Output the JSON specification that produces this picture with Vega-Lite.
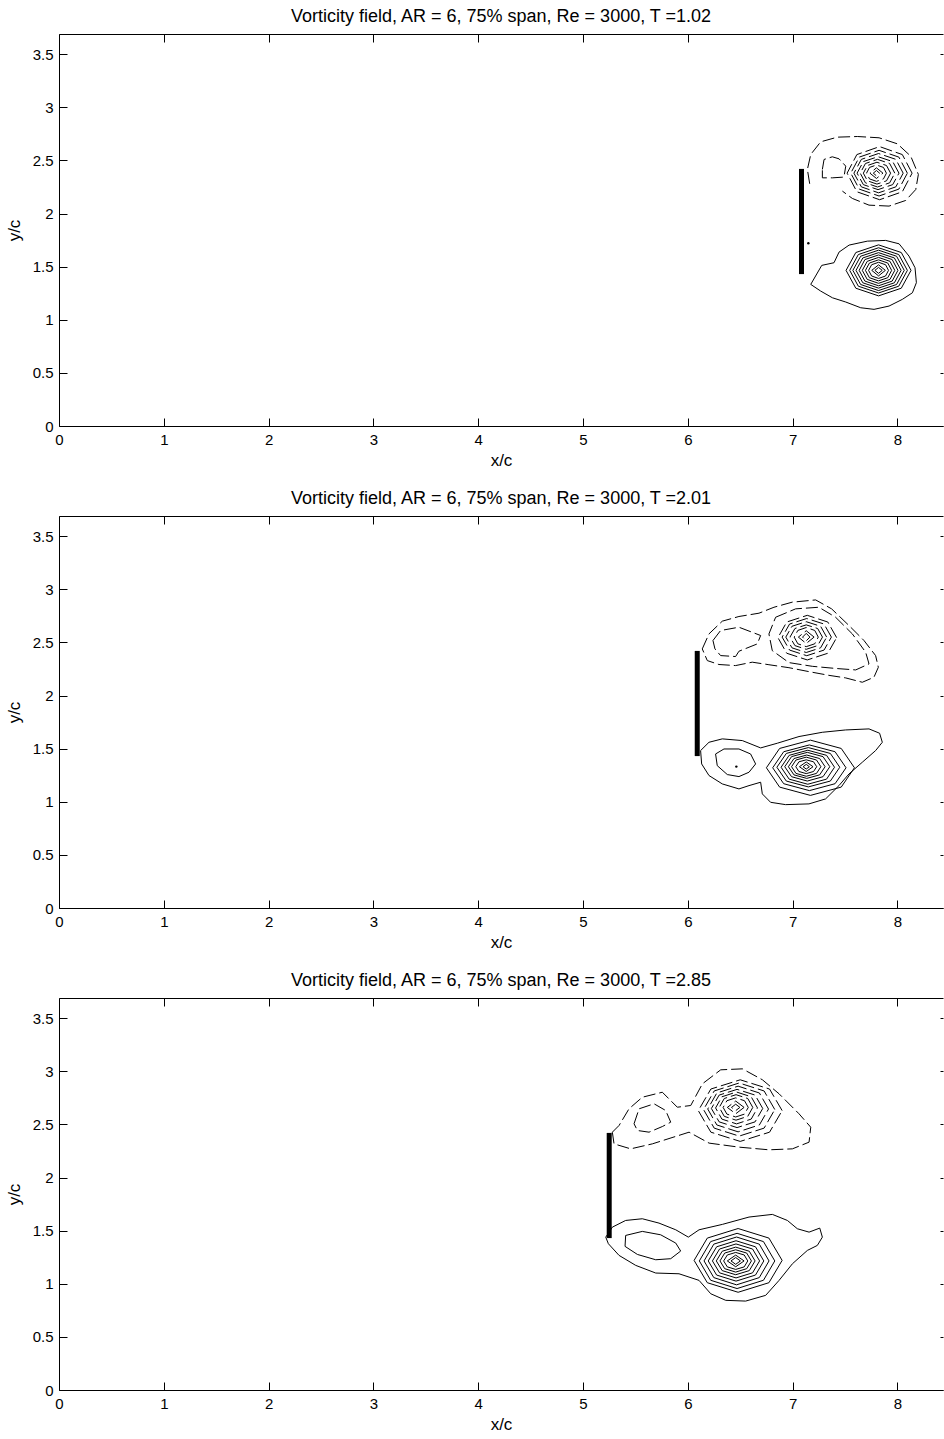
{
  "$schema": "https://vega.github.io/schema/vega-lite/v6.json",
  "background": "white",
  "padding": {"left": 5, "top": 7, "right": 0, "bottom": 0},
  "bounds": "flush",
  "spacing": 90,
  "config": {
    "view": {"stroke": null},
    "font": "Liberation Sans",
    "axis": {"grid": false, "domainColor": "#000", "domainWidth": 1, "tickColor": "#000", "tickWidth": 1, "tickSize": -8, "labelColor": "#000", "labelFontSize": 15, "labelPadding": 14, "titleColor": "#000", "titleFontSize": 17, "titleFontWeight": "normal", "labelFlush": false, "labelOverlap": false},
    "axisX": {"titlePadding": 5},
    "axisY": {"titlePadding": 9},
    "title": {"fontSize": 18, "fontWeight": "normal", "color": "#000", "frame": "group", "offset": 8}
  },
  "datasets": {
    "plates": [{"p": 1, "x": 7.085, "y0": 1.43, "y1": 2.42}, {"p": 2, "x": 6.09, "y0": 1.43, "y1": 2.42}, {"p": 3, "x": 5.25, "y0": 1.43, "y1": 2.42}],
    "dots": [{"p": 1, "x": 7.15, "y": 1.72}, {"p": 2, "x": 6.463, "y": 1.331}],
    "s1": [
      {"c":0,"x":7.173,"y":1.333},{"c":0,"x":7.278,"y":1.512},{"c":0,"x":7.395,"y":1.537},{"c":0,"x":7.443,"y":1.637},{"c":0,"x":7.539,"y":1.703},{"c":0,"x":7.713,"y":1.74},{"c":0,"x":7.888,"y":1.747},{"c":0,"x":8.016,"y":1.715},{"c":0,"x":8.111,"y":1.599},{"c":0,"x":8.168,"y":1.49},{"c":0,"x":8.181,"y":1.349},{"c":0,"x":8.143,"y":1.254},{"c":0,"x":8.047,"y":1.192},{"c":0,"x":7.92,"y":1.129},{"c":0,"x":7.777,"y":1.098},{"c":0,"x":7.65,"y":1.113},{"c":0,"x":7.507,"y":1.167},{"c":0,"x":7.38,"y":1.207},{"c":0,"x":7.268,"y":1.27},{"c":0,"x":7.173,"y":1.333},
      {"c":1,"x":8.13,"y":1.465},{"c":1,"x":8.037,"y":1.633},{"c":1,"x":7.82,"y":1.705},{"c":1,"x":7.603,"y":1.633},{"c":1,"x":7.51,"y":1.465},{"c":1,"x":7.603,"y":1.297},{"c":1,"x":7.82,"y":1.225},{"c":1,"x":8.037,"y":1.297},{"c":1,"x":8.13,"y":1.465},
      {"c":2,"x":8.095,"y":1.465},{"c":2,"x":8.013,"y":1.614},{"c":2,"x":7.82,"y":1.678},{"c":2,"x":7.627,"y":1.614},{"c":2,"x":7.545,"y":1.465},{"c":2,"x":7.627,"y":1.316},{"c":2,"x":7.82,"y":1.252},{"c":2,"x":8.013,"y":1.316},{"c":2,"x":8.095,"y":1.465},
      {"c":3,"x":8.065,"y":1.465},{"c":3,"x":7.992,"y":1.598},{"c":3,"x":7.82,"y":1.655},{"c":3,"x":7.649,"y":1.598},{"c":3,"x":7.575,"y":1.465},{"c":3,"x":7.649,"y":1.332},{"c":3,"x":7.82,"y":1.275},{"c":3,"x":7.992,"y":1.332},{"c":3,"x":8.065,"y":1.465},
      {"c":4,"x":8.035,"y":1.465},{"c":4,"x":7.971,"y":1.582},{"c":4,"x":7.82,"y":1.632},{"c":4,"x":7.67,"y":1.582},{"c":4,"x":7.605,"y":1.465},{"c":4,"x":7.67,"y":1.348},{"c":4,"x":7.82,"y":1.298},{"c":4,"x":7.971,"y":1.348},{"c":4,"x":8.035,"y":1.465},
      {"c":5,"x":8.005,"y":1.465},{"c":5,"x":7.95,"y":1.567},{"c":5,"x":7.82,"y":1.61},{"c":5,"x":7.69,"y":1.567},{"c":5,"x":7.635,"y":1.465},{"c":5,"x":7.69,"y":1.364},{"c":5,"x":7.82,"y":1.32},{"c":5,"x":7.95,"y":1.364},{"c":5,"x":8.005,"y":1.465},
      {"c":6,"x":7.975,"y":1.465},{"c":6,"x":7.929,"y":1.55},{"c":6,"x":7.82,"y":1.587},{"c":6,"x":7.712,"y":1.55},{"c":6,"x":7.665,"y":1.465},{"c":6,"x":7.712,"y":1.38},{"c":6,"x":7.82,"y":1.343},{"c":6,"x":7.929,"y":1.38},{"c":6,"x":7.975,"y":1.465},
      {"c":7,"x":7.945,"y":1.465},{"c":7,"x":7.908,"y":1.534},{"c":7,"x":7.82,"y":1.564},{"c":7,"x":7.733,"y":1.534},{"c":7,"x":7.695,"y":1.465},{"c":7,"x":7.733,"y":1.396},{"c":7,"x":7.82,"y":1.366},{"c":7,"x":7.908,"y":1.396},{"c":7,"x":7.945,"y":1.465},
      {"c":8,"x":7.915,"y":1.465},{"c":8,"x":7.887,"y":1.518},{"c":8,"x":7.82,"y":1.541},{"c":8,"x":7.754,"y":1.518},{"c":8,"x":7.725,"y":1.465},{"c":8,"x":7.754,"y":1.412},{"c":8,"x":7.82,"y":1.389},{"c":8,"x":7.887,"y":1.412},{"c":8,"x":7.915,"y":1.465},
      {"c":9,"x":7.885,"y":1.465},{"c":9,"x":7.82,"y":1.517},{"c":9,"x":7.755,"y":1.465},{"c":9,"x":7.82,"y":1.413},{"c":9,"x":7.885,"y":1.465},
      {"c":10,"x":7.855,"y":1.465},{"c":10,"x":7.82,"y":1.493},{"c":10,"x":7.785,"y":1.465},{"c":10,"x":7.82,"y":1.437},{"c":10,"x":7.855,"y":1.465}
    ],
    "n1": [
      {"c":0,"x":7.163,"y":2.28},{"c":0,"x":7.141,"y":2.415},{"c":0,"x":7.173,"y":2.556},{"c":0,"x":7.268,"y":2.675},{"c":0,"x":7.427,"y":2.719},{"c":0,"x":7.618,"y":2.725},{"c":0,"x":7.825,"y":2.713},{"c":0,"x":8.0,"y":2.656},{"c":0,"x":8.127,"y":2.54},{"c":0,"x":8.2,"y":2.368},{"c":0,"x":8.175,"y":2.226},{"c":0,"x":8.079,"y":2.123},{"c":0,"x":7.92,"y":2.07},{"c":0,"x":7.729,"y":2.079},{"c":0,"x":7.57,"y":2.142},{"c":0,"x":7.475,"y":2.211},
      {"c":1,"x":8.14,"y":2.38},{"c":1,"x":8.047,"y":2.555},{"c":1,"x":7.83,"y":2.63},{"c":1,"x":7.613,"y":2.555},{"c":1,"x":7.52,"y":2.38},{"c":1,"x":7.613,"y":2.205},{"c":1,"x":7.83,"y":2.13},{"c":1,"x":8.047,"y":2.205},{"c":1,"x":8.14,"y":2.38},
      {"c":2,"x":8.095,"y":2.38},{"c":2,"x":8.014,"y":2.531},{"c":2,"x":7.825,"y":2.595},{"c":2,"x":7.636,"y":2.531},{"c":2,"x":7.555,"y":2.38},{"c":2,"x":7.636,"y":2.23},{"c":2,"x":7.825,"y":2.165},{"c":2,"x":8.014,"y":2.23},{"c":2,"x":8.095,"y":2.38},
      {"c":3,"x":8.055,"y":2.38},{"c":3,"x":7.985,"y":2.51},{"c":3,"x":7.82,"y":2.565},{"c":3,"x":7.656,"y":2.51},{"c":3,"x":7.585,"y":2.38},{"c":3,"x":7.656,"y":2.251},{"c":3,"x":7.82,"y":2.195},{"c":3,"x":7.985,"y":2.251},{"c":3,"x":8.055,"y":2.38},
      {"c":4,"x":8.015,"y":2.38},{"c":4,"x":7.955,"y":2.489},{"c":4,"x":7.815,"y":2.535},{"c":4,"x":7.675,"y":2.489},{"c":4,"x":7.615,"y":2.38},{"c":4,"x":7.675,"y":2.272},{"c":4,"x":7.815,"y":2.225},{"c":4,"x":7.955,"y":2.272},{"c":4,"x":8.015,"y":2.38},
      {"c":5,"x":7.975,"y":2.38},{"c":5,"x":7.926,"y":2.471},{"c":5,"x":7.81,"y":2.51},{"c":5,"x":7.695,"y":2.471},{"c":5,"x":7.645,"y":2.38},{"c":5,"x":7.695,"y":2.289},{"c":5,"x":7.81,"y":2.25},{"c":5,"x":7.926,"y":2.289},{"c":5,"x":7.975,"y":2.38},
      {"c":6,"x":7.935,"y":2.38},{"c":6,"x":7.896,"y":2.452},{"c":6,"x":7.805,"y":2.483},{"c":6,"x":7.714,"y":2.452},{"c":6,"x":7.675,"y":2.38},{"c":6,"x":7.714,"y":2.308},{"c":6,"x":7.805,"y":2.277},{"c":6,"x":7.896,"y":2.308},{"c":6,"x":7.935,"y":2.38},
      {"c":7,"x":7.895,"y":2.38},{"c":7,"x":7.867,"y":2.434},{"c":7,"x":7.8,"y":2.457},{"c":7,"x":7.734,"y":2.434},{"c":7,"x":7.705,"y":2.38},{"c":7,"x":7.734,"y":2.326},{"c":7,"x":7.8,"y":2.303},{"c":7,"x":7.867,"y":2.326},{"c":7,"x":7.895,"y":2.38},
      {"c":8,"x":7.862,"y":2.38},{"c":8,"x":7.8,"y":2.43},{"c":8,"x":7.738,"y":2.38},{"c":8,"x":7.8,"y":2.33},{"c":8,"x":7.862,"y":2.38},
      {"c":9,"x":7.83,"y":2.38},{"c":9,"x":7.8,"y":2.405},{"c":9,"x":7.77,"y":2.38},{"c":9,"x":7.8,"y":2.355},{"c":9,"x":7.83,"y":2.38},
      {"c":10,"x":7.284,"y":2.415},{"c":10,"x":7.3,"y":2.509},{"c":10,"x":7.379,"y":2.534},{"c":10,"x":7.443,"y":2.515},{"c":10,"x":7.507,"y":2.446},{"c":10,"x":7.49,"y":2.343},{"c":10,"x":7.379,"y":2.336},{"c":10,"x":7.284,"y":2.336},{"c":10,"x":7.284,"y":2.415}
    ],
    "s2": [
      {"c":0,"x":6.122,"y":1.482},{"c":0,"x":6.202,"y":1.56},{"c":0,"x":6.329,"y":1.592},{"c":0,"x":6.52,"y":1.576},{"c":0,"x":6.695,"y":1.507},{"c":0,"x":6.854,"y":1.551},{"c":0,"x":7.061,"y":1.614},{"c":0,"x":7.283,"y":1.654},{"c":0,"x":7.506,"y":1.676},{"c":0,"x":7.729,"y":1.686},{"c":0,"x":7.83,"y":1.645},{"c":0,"x":7.856,"y":1.56},{"c":0,"x":7.792,"y":1.482},{"c":0,"x":7.665,"y":1.372},{"c":0,"x":7.538,"y":1.262},{"c":0,"x":7.442,"y":1.152},{"c":0,"x":7.315,"y":1.027},{"c":0,"x":7.156,"y":0.98},{"c":0,"x":6.933,"y":0.973},{"c":0,"x":6.79,"y":0.995},{"c":0,"x":6.711,"y":1.074},{"c":0,"x":6.695,"y":1.184},{"c":0,"x":6.584,"y":1.152},{"c":0,"x":6.488,"y":1.121},{"c":0,"x":6.329,"y":1.168},{"c":0,"x":6.202,"y":1.247},{"c":0,"x":6.132,"y":1.356},{"c":0,"x":6.122,"y":1.482},
      {"c":1,"x":7.59,"y":1.32},{"c":1,"x":7.464,"y":1.502},{"c":1,"x":7.17,"y":1.58},{"c":1,"x":6.876,"y":1.502},{"c":1,"x":6.75,"y":1.32},{"c":1,"x":6.876,"y":1.138},{"c":1,"x":7.17,"y":1.06},{"c":1,"x":7.464,"y":1.138},{"c":1,"x":7.59,"y":1.32},
      {"c":2,"x":7.51,"y":1.32},{"c":2,"x":7.405,"y":1.471},{"c":2,"x":7.16,"y":1.535},{"c":2,"x":6.915,"y":1.471},{"c":2,"x":6.81,"y":1.32},{"c":2,"x":6.915,"y":1.17},{"c":2,"x":7.16,"y":1.105},{"c":2,"x":7.405,"y":1.17},{"c":2,"x":7.51,"y":1.32},
      {"c":3,"x":7.45,"y":1.325},{"c":3,"x":7.36,"y":1.455},{"c":3,"x":7.15,"y":1.51},{"c":3,"x":6.94,"y":1.455},{"c":3,"x":6.85,"y":1.325},{"c":3,"x":6.94,"y":1.195},{"c":3,"x":7.15,"y":1.14},{"c":3,"x":7.36,"y":1.195},{"c":3,"x":7.45,"y":1.325},
      {"c":4,"x":7.4,"y":1.325},{"c":4,"x":7.324,"y":1.437},{"c":4,"x":7.145,"y":1.485},{"c":4,"x":6.967,"y":1.437},{"c":4,"x":6.89,"y":1.325},{"c":4,"x":6.967,"y":1.213},{"c":4,"x":7.145,"y":1.165},{"c":4,"x":7.324,"y":1.213},{"c":4,"x":7.4,"y":1.325},
      {"c":5,"x":7.355,"y":1.33},{"c":5,"x":7.29,"y":1.425},{"c":5,"x":7.14,"y":1.465},{"c":5,"x":6.99,"y":1.425},{"c":5,"x":6.925,"y":1.33},{"c":5,"x":6.99,"y":1.236},{"c":5,"x":7.14,"y":1.195},{"c":5,"x":7.29,"y":1.236},{"c":5,"x":7.355,"y":1.33},
      {"c":6,"x":7.31,"y":1.33},{"c":6,"x":7.258,"y":1.407},{"c":6,"x":7.135,"y":1.44},{"c":6,"x":7.013,"y":1.407},{"c":6,"x":6.96,"y":1.33},{"c":6,"x":7.013,"y":1.253},{"c":6,"x":7.135,"y":1.22},{"c":6,"x":7.258,"y":1.253},{"c":6,"x":7.31,"y":1.33},
      {"c":7,"x":7.27,"y":1.33},{"c":7,"x":7.228,"y":1.393},{"c":7,"x":7.13,"y":1.42},{"c":7,"x":7.032,"y":1.393},{"c":7,"x":6.99,"y":1.33},{"c":7,"x":7.032,"y":1.267},{"c":7,"x":7.13,"y":1.24},{"c":7,"x":7.228,"y":1.267},{"c":7,"x":7.27,"y":1.33},
      {"c":8,"x":7.23,"y":1.33},{"c":8,"x":7.2,"y":1.376},{"c":8,"x":7.13,"y":1.395},{"c":8,"x":7.06,"y":1.376},{"c":8,"x":7.03,"y":1.33},{"c":8,"x":7.06,"y":1.285},{"c":8,"x":7.13,"y":1.265},{"c":8,"x":7.2,"y":1.285},{"c":8,"x":7.23,"y":1.33},
      {"c":9,"x":7.195,"y":1.33},{"c":9,"x":7.13,"y":1.375},{"c":9,"x":7.065,"y":1.33},{"c":9,"x":7.13,"y":1.285},{"c":9,"x":7.195,"y":1.33},
      {"c":10,"x":7.16,"y":1.33},{"c":10,"x":7.13,"y":1.352},{"c":10,"x":7.1,"y":1.33},{"c":10,"x":7.13,"y":1.308},{"c":10,"x":7.16,"y":1.33},
      {"c":11,"x":6.265,"y":1.45},{"c":11,"x":6.345,"y":1.497},{"c":11,"x":6.488,"y":1.497},{"c":11,"x":6.599,"y":1.45},{"c":11,"x":6.647,"y":1.356},{"c":11,"x":6.584,"y":1.278},{"c":11,"x":6.488,"y":1.237},{"c":11,"x":6.377,"y":1.256},{"c":11,"x":6.281,"y":1.34},{"c":11,"x":6.265,"y":1.45}
    ],
    "n2": [
      {"c":0,"x":6.138,"y":2.439},{"c":0,"x":6.202,"y":2.58},{"c":0,"x":6.329,"y":2.7},{"c":0,"x":6.488,"y":2.744},{"c":0,"x":6.679,"y":2.775},{"c":0,"x":6.822,"y":2.831},{"c":0,"x":6.997,"y":2.879},{"c":0,"x":7.22,"y":2.9},{"c":0,"x":7.372,"y":2.816},{"c":0,"x":7.538,"y":2.659},{"c":0,"x":7.681,"y":2.518},{"c":0,"x":7.792,"y":2.376},{"c":0,"x":7.818,"y":2.266},{"c":0,"x":7.776,"y":2.172},{"c":0,"x":7.665,"y":2.125},{"c":0,"x":7.506,"y":2.166},{"c":0,"x":7.347,"y":2.19},{"c":0,"x":7.156,"y":2.225},{"c":0,"x":6.965,"y":2.262},{"c":0,"x":6.774,"y":2.29},{"c":0,"x":6.615,"y":2.314},{"c":0,"x":6.456,"y":2.282},{"c":0,"x":6.297,"y":2.292},{"c":0,"x":6.186,"y":2.329},{"c":0,"x":6.138,"y":2.439},
      {"c":1,"x":6.838,"y":2.737},{"c":1,"x":7.029,"y":2.816},{"c":1,"x":7.251,"y":2.831},{"c":1,"x":7.41,"y":2.737},{"c":1,"x":7.57,"y":2.58},{"c":1,"x":7.697,"y":2.408},{"c":1,"x":7.729,"y":2.298},{"c":1,"x":7.602,"y":2.241},{"c":1,"x":7.41,"y":2.255},{"c":1,"x":7.188,"y":2.275},{"c":1,"x":6.965,"y":2.31},{"c":1,"x":6.806,"y":2.423},{"c":1,"x":6.774,"y":2.58},{"c":1,"x":6.838,"y":2.737},
      {"c":2,"x":7.42,"y":2.545},{"c":2,"x":7.336,"y":2.692},{"c":2,"x":7.14,"y":2.755},{"c":2,"x":6.944,"y":2.692},{"c":2,"x":6.86,"y":2.545},{"c":2,"x":6.944,"y":2.398},{"c":2,"x":7.14,"y":2.335},{"c":2,"x":7.336,"y":2.398},{"c":2,"x":7.42,"y":2.545},
      {"c":3,"x":7.37,"y":2.55},{"c":3,"x":7.3,"y":2.673},{"c":3,"x":7.135,"y":2.725},{"c":3,"x":6.971,"y":2.673},{"c":3,"x":6.9,"y":2.55},{"c":3,"x":6.971,"y":2.428},{"c":3,"x":7.135,"y":2.375},{"c":3,"x":7.3,"y":2.428},{"c":3,"x":7.37,"y":2.55},
      {"c":4,"x":7.325,"y":2.55},{"c":4,"x":7.267,"y":2.652},{"c":4,"x":7.13,"y":2.695},{"c":4,"x":6.994,"y":2.652},{"c":4,"x":6.935,"y":2.55},{"c":4,"x":6.994,"y":2.449},{"c":4,"x":7.13,"y":2.405},{"c":4,"x":7.267,"y":2.449},{"c":4,"x":7.325,"y":2.55},
      {"c":5,"x":7.285,"y":2.55},{"c":5,"x":7.239,"y":2.631},{"c":5,"x":7.13,"y":2.665},{"c":5,"x":7.022,"y":2.631},{"c":5,"x":6.975,"y":2.55},{"c":5,"x":7.022,"y":2.47},{"c":5,"x":7.13,"y":2.435},{"c":5,"x":7.239,"y":2.47},{"c":5,"x":7.285,"y":2.55},
      {"c":6,"x":7.245,"y":2.55},{"c":6,"x":7.211,"y":2.613},{"c":6,"x":7.13,"y":2.64},{"c":6,"x":7.05,"y":2.613},{"c":6,"x":7.015,"y":2.55},{"c":6,"x":7.05,"y":2.487},{"c":6,"x":7.13,"y":2.46},{"c":6,"x":7.211,"y":2.487},{"c":6,"x":7.245,"y":2.55},
      {"c":7,"x":7.205,"y":2.55},{"c":7,"x":7.13,"y":2.61},{"c":7,"x":7.055,"y":2.55},{"c":7,"x":7.13,"y":2.49},{"c":7,"x":7.205,"y":2.55},
      {"c":8,"x":7.165,"y":2.55},{"c":8,"x":7.13,"y":2.585},{"c":8,"x":7.095,"y":2.55},{"c":8,"x":7.13,"y":2.515},{"c":8,"x":7.165,"y":2.55},
      {"c":9,"x":6.24,"y":2.518},{"c":9,"x":6.313,"y":2.612},{"c":9,"x":6.488,"y":2.643},{"c":9,"x":6.695,"y":2.565},{"c":9,"x":6.663,"y":2.486},{"c":9,"x":6.488,"y":2.417},{"c":9,"x":6.456,"y":2.367},{"c":9,"x":6.313,"y":2.376},{"c":9,"x":6.259,"y":2.439},{"c":9,"x":6.24,"y":2.518}
    ],
    "s3": [
      {"c":0,"x":5.217,"y":1.439},{"c":0,"x":5.28,"y":1.533},{"c":0,"x":5.407,"y":1.596},{"c":0,"x":5.566,"y":1.612},{"c":0,"x":5.725,"y":1.571},{"c":0,"x":5.885,"y":1.508},{"c":0,"x":6.005,"y":1.439},{"c":0,"x":6.107,"y":1.508},{"c":0,"x":6.33,"y":1.559},{"c":0,"x":6.584,"y":1.628},{"c":0,"x":6.807,"y":1.653},{"c":0,"x":6.95,"y":1.596},{"c":0,"x":7.045,"y":1.518},{"c":0,"x":7.157,"y":1.486},{"c":0,"x":7.259,"y":1.524},{"c":0,"x":7.284,"y":1.439},{"c":0,"x":7.236,"y":1.361},{"c":0,"x":7.141,"y":1.314},{"c":0,"x":6.998,"y":1.188},{"c":0,"x":6.871,"y":1.032},{"c":0,"x":6.743,"y":0.891},{"c":0,"x":6.552,"y":0.837},{"c":0,"x":6.362,"y":0.844},{"c":0,"x":6.219,"y":0.906},{"c":0,"x":6.107,"y":1.032},{"c":0,"x":5.916,"y":1.094},{"c":0,"x":5.694,"y":1.101},{"c":0,"x":5.503,"y":1.173},{"c":0,"x":5.344,"y":1.267},{"c":0,"x":5.242,"y":1.377},{"c":0,"x":5.217,"y":1.439},
      {"c":1,"x":6.9,"y":1.22},{"c":1,"x":6.774,"y":1.43},{"c":1,"x":6.48,"y":1.52},{"c":1,"x":6.186,"y":1.43},{"c":1,"x":6.06,"y":1.22},{"c":1,"x":6.186,"y":1.01},{"c":1,"x":6.48,"y":0.92},{"c":1,"x":6.774,"y":1.01},{"c":1,"x":6.9,"y":1.22},
      {"c":2,"x":6.83,"y":1.215},{"c":2,"x":6.722,"y":1.397},{"c":2,"x":6.47,"y":1.475},{"c":2,"x":6.218,"y":1.397},{"c":2,"x":6.11,"y":1.215},{"c":2,"x":6.218,"y":1.033},{"c":2,"x":6.47,"y":0.955},{"c":2,"x":6.722,"y":1.033},{"c":2,"x":6.83,"y":1.215},
      {"c":3,"x":6.775,"y":1.215},{"c":3,"x":6.682,"y":1.373},{"c":3,"x":6.465,"y":1.44},{"c":3,"x":6.248,"y":1.373},{"c":3,"x":6.155,"y":1.215},{"c":3,"x":6.248,"y":1.058},{"c":3,"x":6.465,"y":0.99},{"c":3,"x":6.682,"y":1.058},{"c":3,"x":6.775,"y":1.215},
      {"c":4,"x":6.725,"y":1.215},{"c":4,"x":6.646,"y":1.348},{"c":4,"x":6.46,"y":1.405},{"c":4,"x":6.275,"y":1.348},{"c":4,"x":6.195,"y":1.215},{"c":4,"x":6.275,"y":1.082},{"c":4,"x":6.46,"y":1.025},{"c":4,"x":6.646,"y":1.082},{"c":4,"x":6.725,"y":1.215},
      {"c":5,"x":6.685,"y":1.215},{"c":5,"x":6.618,"y":1.327},{"c":5,"x":6.46,"y":1.375},{"c":5,"x":6.303,"y":1.327},{"c":5,"x":6.235,"y":1.215},{"c":5,"x":6.303,"y":1.103},{"c":5,"x":6.46,"y":1.055},{"c":5,"x":6.618,"y":1.103},{"c":5,"x":6.685,"y":1.215},
      {"c":6,"x":6.642,"y":1.215},{"c":6,"x":6.587,"y":1.306},{"c":6,"x":6.457,"y":1.345},{"c":6,"x":6.328,"y":1.306},{"c":6,"x":6.272,"y":1.215},{"c":6,"x":6.328,"y":1.124},{"c":6,"x":6.457,"y":1.085},{"c":6,"x":6.587,"y":1.124},{"c":6,"x":6.642,"y":1.215},
      {"c":7,"x":6.607,"y":1.215},{"c":7,"x":6.562,"y":1.289},{"c":7,"x":6.457,"y":1.32},{"c":7,"x":6.352,"y":1.289},{"c":7,"x":6.307,"y":1.215},{"c":7,"x":6.352,"y":1.142},{"c":7,"x":6.457,"y":1.11},{"c":7,"x":6.562,"y":1.142},{"c":7,"x":6.607,"y":1.215},
      {"c":8,"x":6.572,"y":1.215},{"c":8,"x":6.538,"y":1.271},{"c":8,"x":6.457,"y":1.295},{"c":8,"x":6.377,"y":1.271},{"c":8,"x":6.342,"y":1.215},{"c":8,"x":6.377,"y":1.159},{"c":8,"x":6.457,"y":1.135},{"c":8,"x":6.538,"y":1.159},{"c":8,"x":6.572,"y":1.215},
      {"c":9,"x":6.537,"y":1.215},{"c":9,"x":6.457,"y":1.27},{"c":9,"x":6.377,"y":1.215},{"c":9,"x":6.457,"y":1.16},{"c":9,"x":6.537,"y":1.215},
      {"c":10,"x":6.502,"y":1.215},{"c":10,"x":6.457,"y":1.247},{"c":10,"x":6.412,"y":1.215},{"c":10,"x":6.457,"y":1.183},{"c":10,"x":6.502,"y":1.215},
      {"c":11,"x":5.407,"y":1.455},{"c":11,"x":5.566,"y":1.493},{"c":11,"x":5.741,"y":1.461},{"c":11,"x":5.885,"y":1.383},{"c":11,"x":5.932,"y":1.308},{"c":11,"x":5.837,"y":1.236},{"c":11,"x":5.694,"y":1.226},{"c":11,"x":5.519,"y":1.276},{"c":11,"x":5.401,"y":1.352},{"c":11,"x":5.407,"y":1.455}
    ],
    "n3": [
      {"c":0,"x":5.28,"y":2.427},{"c":0,"x":5.344,"y":2.49},{"c":0,"x":5.439,"y":2.647},{"c":0,"x":5.566,"y":2.756},{"c":0,"x":5.757,"y":2.803},{"c":0,"x":5.9,"y":2.662},{"c":0,"x":6.028,"y":2.678},{"c":0,"x":6.139,"y":2.882},{"c":0,"x":6.314,"y":3.014},{"c":0,"x":6.521,"y":3.023},{"c":0,"x":6.712,"y":2.92},{"c":0,"x":6.871,"y":2.788},{"c":0,"x":7.061,"y":2.6},{"c":0,"x":7.173,"y":2.474},{"c":0,"x":7.157,"y":2.333},{"c":0,"x":6.998,"y":2.27},{"c":0,"x":6.775,"y":2.261},{"c":0,"x":6.489,"y":2.286},{"c":0,"x":6.203,"y":2.324},{"c":0,"x":6.012,"y":2.427},{"c":0,"x":5.662,"y":2.317},{"c":0,"x":5.455,"y":2.27},{"c":0,"x":5.296,"y":2.317},{"c":0,"x":5.28,"y":2.427},
      {"c":1,"x":6.9,"y":2.63},{"c":1,"x":6.78,"y":2.833},{"c":1,"x":6.5,"y":2.92},{"c":1,"x":6.22,"y":2.833},{"c":1,"x":6.1,"y":2.63},{"c":1,"x":6.22,"y":2.427},{"c":1,"x":6.5,"y":2.34},{"c":1,"x":6.78,"y":2.427},{"c":1,"x":6.9,"y":2.63},
      {"c":2,"x":6.83,"y":2.64},{"c":2,"x":6.728,"y":2.815},{"c":2,"x":6.49,"y":2.89},{"c":2,"x":6.252,"y":2.815},{"c":2,"x":6.15,"y":2.64},{"c":2,"x":6.252,"y":2.465},{"c":2,"x":6.49,"y":2.39},{"c":2,"x":6.728,"y":2.465},{"c":2,"x":6.83,"y":2.64},
      {"c":3,"x":6.77,"y":2.645},{"c":3,"x":6.683,"y":2.796},{"c":3,"x":6.48,"y":2.86},{"c":3,"x":6.277,"y":2.796},{"c":3,"x":6.19,"y":2.645},{"c":3,"x":6.277,"y":2.495},{"c":3,"x":6.48,"y":2.43},{"c":3,"x":6.683,"y":2.495},{"c":3,"x":6.77,"y":2.645},
      {"c":4,"x":6.715,"y":2.65},{"c":4,"x":6.642,"y":2.776},{"c":4,"x":6.47,"y":2.83},{"c":4,"x":6.299,"y":2.776},{"c":4,"x":6.225,"y":2.65},{"c":4,"x":6.299,"y":2.524},{"c":4,"x":6.47,"y":2.47},{"c":4,"x":6.642,"y":2.524},{"c":4,"x":6.715,"y":2.65},
      {"c":5,"x":6.665,"y":2.655},{"c":5,"x":6.605,"y":2.76},{"c":5,"x":6.465,"y":2.805},{"c":5,"x":6.325,"y":2.76},{"c":5,"x":6.265,"y":2.655},{"c":5,"x":6.325,"y":2.55},{"c":5,"x":6.465,"y":2.505},{"c":5,"x":6.605,"y":2.55},{"c":5,"x":6.665,"y":2.655},
      {"c":6,"x":6.62,"y":2.66},{"c":6,"x":6.572,"y":2.744},{"c":6,"x":6.46,"y":2.78},{"c":6,"x":6.348,"y":2.744},{"c":6,"x":6.3,"y":2.66},{"c":6,"x":6.348,"y":2.576},{"c":6,"x":6.46,"y":2.54},{"c":6,"x":6.572,"y":2.576},{"c":6,"x":6.62,"y":2.66},
      {"c":7,"x":6.577,"y":2.66},{"c":7,"x":6.541,"y":2.723},{"c":7,"x":6.457,"y":2.75},{"c":7,"x":6.373,"y":2.723},{"c":7,"x":6.337,"y":2.66},{"c":7,"x":6.373,"y":2.597},{"c":7,"x":6.457,"y":2.57},{"c":7,"x":6.541,"y":2.597},{"c":7,"x":6.577,"y":2.66},
      {"c":8,"x":6.537,"y":2.66},{"c":8,"x":6.457,"y":2.72},{"c":8,"x":6.377,"y":2.66},{"c":8,"x":6.457,"y":2.6},{"c":8,"x":6.537,"y":2.66},
      {"c":9,"x":6.497,"y":2.66},{"c":9,"x":6.457,"y":2.69},{"c":9,"x":6.417,"y":2.66},{"c":9,"x":6.457,"y":2.63},{"c":9,"x":6.497,"y":2.66},
      {"c":10,"x":5.487,"y":2.506},{"c":10,"x":5.535,"y":2.647},{"c":10,"x":5.678,"y":2.694},{"c":10,"x":5.789,"y":2.631},{"c":10,"x":5.837,"y":2.521},{"c":10,"x":5.757,"y":2.48},{"c":10,"x":5.63,"y":2.427},{"c":10,"x":5.519,"y":2.443},{"c":10,"x":5.487,"y":2.506}
    ]
  },
  "vconcat": [
    {
      "width": 884, "height": 392,
      "title": {"text": "Vorticity field, AR = 6, 75% span, Re = 3000, T =1.02"},
      "layer": [
        {"data": {"name": "plates"}, "transform": [{"filter": "datum.p == 1"}], "mark": {"type": "rule", "strokeWidth": 5, "color": "#000"},
         "encoding": {"x": {"field": "x", "type": "quantitative", "scale": {"domain": [0, 8.435], "nice": false, "zero": false}, "axis": {"orient": "bottom", "values": [0,1,2,3,4,5,6,7,8], "format": "d", "title": "x/c"}},
                      "y": {"field": "y0", "type": "quantitative", "scale": {"domain": [0, 3.69], "nice": false, "zero": false}, "axis": {"orient": "left", "values": [0,0.5,1,1.5,2,2.5,3,3.5], "format": "~g", "title": "y/c"}},
                      "y2": {"field": "y1"}}},
        {"data": {"name": "s1"}, "mark": {"type": "line", "color": "#000", "strokeWidth": 1},
         "encoding": {"x": {"field": "x", "type": "quantitative", "axis": {"orient": "top", "values": [0,1,2,3,4,5,6,7,8], "labels": false, "title": null}},
                      "y": {"field": "y", "type": "quantitative", "axis": {"orient": "right", "values": [0,0.5,1,1.5,2,2.5,3,3.5], "labels": false, "title": null, "domain": false, "tickSize": -3}},
                      "detail": {"field": "c", "type": "nominal"}, "order": {"value": null}}},
        {"data": {"name": "n1"}, "mark": {"type": "line", "color": "#000", "strokeWidth": 1, "strokeDash": [12, 4]},
         "encoding": {"x": {"field": "x", "type": "quantitative", "axis": null}, "y": {"field": "y", "type": "quantitative", "axis": null},
                      "detail": {"field": "c", "type": "nominal"}, "order": {"value": null}}},
        {"data": {"name": "dots"}, "transform": [{"filter": "datum.p == 1"}], "mark": {"type": "point", "filled": true, "size": 6, "color": "#000", "opacity": 1},
         "encoding": {"x": {"field": "x", "type": "quantitative", "axis": null}, "y": {"field": "y", "type": "quantitative", "axis": null}}}
      ],
      "resolve": {"axis": {"x": "independent", "y": "independent"}}
    },
    {
      "width": 884, "height": 392,
      "title": {"text": "Vorticity field, AR = 6, 75% span, Re = 3000, T =2.01"},
      "layer": [
        {"data": {"name": "plates"}, "transform": [{"filter": "datum.p == 2"}], "mark": {"type": "rule", "strokeWidth": 5, "color": "#000"},
         "encoding": {"x": {"field": "x", "type": "quantitative", "scale": {"domain": [0, 8.435], "nice": false, "zero": false}, "axis": {"orient": "bottom", "values": [0,1,2,3,4,5,6,7,8], "format": "d", "title": "x/c"}},
                      "y": {"field": "y0", "type": "quantitative", "scale": {"domain": [0, 3.69], "nice": false, "zero": false}, "axis": {"orient": "left", "values": [0,0.5,1,1.5,2,2.5,3,3.5], "format": "~g", "title": "y/c"}},
                      "y2": {"field": "y1"}}},
        {"data": {"name": "s2"}, "mark": {"type": "line", "color": "#000", "strokeWidth": 1},
         "encoding": {"x": {"field": "x", "type": "quantitative", "axis": {"orient": "top", "values": [0,1,2,3,4,5,6,7,8], "labels": false, "title": null}},
                      "y": {"field": "y", "type": "quantitative", "axis": {"orient": "right", "values": [0,0.5,1,1.5,2,2.5,3,3.5], "labels": false, "title": null, "domain": false, "tickSize": -3}},
                      "detail": {"field": "c", "type": "nominal"}, "order": {"value": null}}},
        {"data": {"name": "n2"}, "mark": {"type": "line", "color": "#000", "strokeWidth": 1, "strokeDash": [12, 4]},
         "encoding": {"x": {"field": "x", "type": "quantitative", "axis": null}, "y": {"field": "y", "type": "quantitative", "axis": null},
                      "detail": {"field": "c", "type": "nominal"}, "order": {"value": null}}},
        {"data": {"name": "dots"}, "transform": [{"filter": "datum.p == 2"}], "mark": {"type": "point", "filled": true, "size": 6, "color": "#000", "opacity": 1},
         "encoding": {"x": {"field": "x", "type": "quantitative", "axis": null}, "y": {"field": "y", "type": "quantitative", "axis": null}}}
      ],
      "resolve": {"axis": {"x": "independent", "y": "independent"}}
    },
    {
      "width": 884, "height": 392,
      "title": {"text": "Vorticity field, AR = 6, 75% span, Re = 3000, T =2.85"},
      "layer": [
        {"data": {"name": "plates"}, "transform": [{"filter": "datum.p == 3"}], "mark": {"type": "rule", "strokeWidth": 5, "color": "#000"},
         "encoding": {"x": {"field": "x", "type": "quantitative", "scale": {"domain": [0, 8.435], "nice": false, "zero": false}, "axis": {"orient": "bottom", "values": [0,1,2,3,4,5,6,7,8], "format": "d", "title": "x/c"}},
                      "y": {"field": "y0", "type": "quantitative", "scale": {"domain": [0, 3.69], "nice": false, "zero": false}, "axis": {"orient": "left", "values": [0,0.5,1,1.5,2,2.5,3,3.5], "format": "~g", "title": "y/c"}},
                      "y2": {"field": "y1"}}},
        {"data": {"name": "s3"}, "mark": {"type": "line", "color": "#000", "strokeWidth": 1},
         "encoding": {"x": {"field": "x", "type": "quantitative", "axis": {"orient": "top", "values": [0,1,2,3,4,5,6,7,8], "labels": false, "title": null}},
                      "y": {"field": "y", "type": "quantitative", "axis": {"orient": "right", "values": [0,0.5,1,1.5,2,2.5,3,3.5], "labels": false, "title": null, "domain": false, "tickSize": -3}},
                      "detail": {"field": "c", "type": "nominal"}, "order": {"value": null}}},
        {"data": {"name": "n3"}, "mark": {"type": "line", "color": "#000", "strokeWidth": 1, "strokeDash": [12, 4]},
         "encoding": {"x": {"field": "x", "type": "quantitative", "axis": null}, "y": {"field": "y", "type": "quantitative", "axis": null},
                      "detail": {"field": "c", "type": "nominal"}, "order": {"value": null}}}
      ],
      "resolve": {"axis": {"x": "independent", "y": "independent"}}
    }
  ]
}
